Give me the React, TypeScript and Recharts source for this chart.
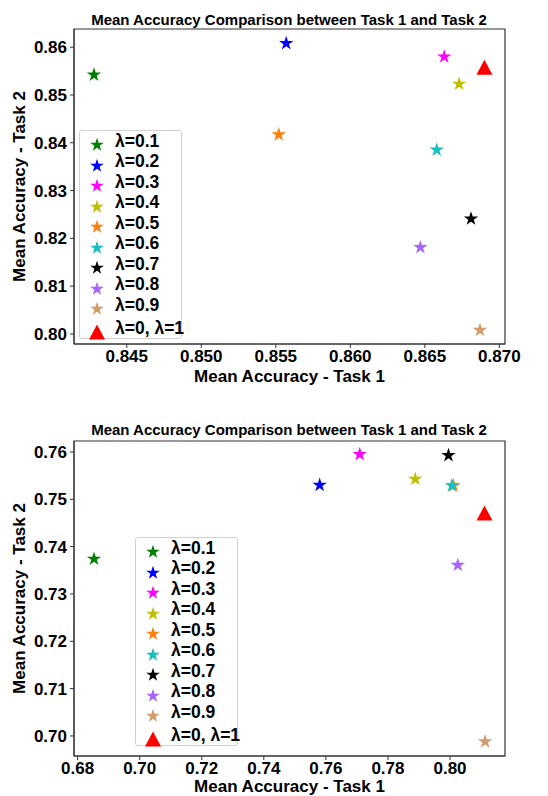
import React from 'react';
import { ScatterChart, Scatter, XAxis, YAxis, ZAxis, ReferenceArea, Legend, Symbols } from 'recharts';

// legend entries and marker colours (same for both panels)
const lambdaLabels = ['λ=0.1', 'λ=0.2', 'λ=0.3', 'λ=0.4', 'λ=0.5', 'λ=0.6', 'λ=0.7', 'λ=0.8', 'λ=0.9', 'λ=0, λ=1'];
const markerColors = ['#008000', '#0000ff', '#ff00ff', '#bfbf00', '#ff7f0e', '#17bfbf', '#000000', '#a866ff', '#d29b6a', '#ff0000'];

// top panel
const task1Top = [0.8428, 0.8557, 0.8663, 0.8673, 0.8552, 0.8658, 0.8681, 0.8647, 0.8687, 0.8690];
const task2Top = [0.8542, 0.8608, 0.8580, 0.8523, 0.8417, 0.8385, 0.8241, 0.8181, 0.8008, 0.8558];
const xTicksTop = [0.845, 0.85, 0.855, 0.86, 0.865, 0.87];
const yTicksTop = [0.8, 0.81, 0.82, 0.83, 0.84, 0.85, 0.86];

// bottom panel
const task1Bottom = [0.6853, 0.7580, 0.7709, 0.7888, 0.8011, 0.8006, 0.7995, 0.8025, 0.8113, 0.8111];
const task2Bottom = [0.7374, 0.7530, 0.7595, 0.7543, 0.7529, 0.7529, 0.7593, 0.7361, 0.6988, 0.7471];
const xTicksBottom = [0.68, 0.7, 0.72, 0.74, 0.76, 0.78, 0.8];
const yTicksBottom = [0.7, 0.71, 0.72, 0.73, 0.74, 0.75, 0.76];

const FONT = '"Liberation Sans", Arial, sans-serif';
const TITLE = 'Mean Accuracy Comparison between Task 1 and Task 2';

// matplotlib '^' marker is centred on its bounding box
const Triangle = (props: any) => {
  const { cx, cy, fill } = props;
  const h = 15;
  const w = 16;
  return (
    <polygon
      points={`${cx},${cy - h / 2} ${cx - w / 2},${cy + h / 2} ${cx + w / 2},${cy + h / 2}`}
      fill={fill}
    />
  );
};

const LegendBox = () => (
  <div
    style={{
      width: 103,
      height: 209,
      border: '1px solid #d0d0d0',
      borderRadius: 3,
      background: 'rgba(255,255,255,0.8)',
      boxSizing: 'border-box',
      paddingTop: 2,
      fontFamily: FONT,
      fontWeight: 'bold',
      fontSize: 17.5,
      color: '#000',
    }}
  >
    {lambdaLabels.map((label, i) => {
      const last = i === lambdaLabels.length - 1;
      return (
        <div key={label} style={{ display: 'flex', alignItems: 'center', height: last ? 25 : 20.5, whiteSpace: 'nowrap' }}>
          <svg width={34} height={20} style={{ flex: 'none' }}>
            {last ? (
              <Triangle cx={17} cy={12} fill={markerColors[i]} />
            ) : (
              <Symbols cx={17} cy={12} type="star" size={58} fill={markerColors[i]} />
            )}
          </svg>
          <span style={{ marginLeft: 1, marginTop: -4 }}>{label}</span>
        </div>
      );
    })}
  </div>
);

interface PanelProps {
  xs: number[];
  ys: number[];
  xTicks: number[];
  yTicks: number[];
  xDomain: [number, number];
  yDomain: [number, number];
  xDigits: number;
  height: number;
  marginTop: number;
  marginBottom: number;
  labelOffset: number;
  titleY: number;
  legendLeft: number;
  legendTop: number;
}

const Panel: React.FC<PanelProps> = ({ xs, ys, xTicks, yTicks, xDomain, yDomain, xDigits, height, marginTop, marginBottom, labelOffset, titleY, legendLeft, legendTop }) => {
  const tickStyle = { fontSize: 17, fontWeight: 'bold', fill: '#000', fontFamily: FONT };
  return (
    <ScatterChart width={548} height={height} margin={{ top: marginTop, right: 43, bottom: marginBottom, left: 0 }}>
      <XAxis
        type="number"
        dataKey="x"
        domain={xDomain}
        ticks={xTicks}
        allowDataOverflow
        height={40}
        tick={tickStyle}
        tickSize={4}
        tickMargin={2}
        stroke="#333"
        tickFormatter={(v: number) => v.toFixed(xDigits)}
        label={{ value: 'Mean Accuracy - Task 1', position: 'insideBottom', offset: labelOffset, style: { fontSize: 17, fontWeight: 'bold', fill: '#000', fontFamily: FONT } }}
      />
      <YAxis
        type="number"
        dataKey="y"
        domain={yDomain}
        ticks={yTicks}
        allowDataOverflow
        width={74}
        tick={tickStyle}
        tickSize={4}
        tickMargin={3}
        stroke="#333"
        tickFormatter={(v: number) => v.toFixed(2)}
        label={{ value: 'Mean Accuracy - Task 2', angle: -90, position: 'insideLeft', offset: 19, style: { textAnchor: 'middle', fontSize: 17, fontWeight: 'bold', fill: '#000', fontFamily: FONT } }}
      />
      <ZAxis range={[58, 58]} />
      <ReferenceArea x1={xDomain[0]} x2={xDomain[1]} y1={yDomain[0]} y2={yDomain[1]} fill="none" fillOpacity={0} stroke="#333" strokeWidth={1.2} />
      {lambdaLabels.map((label, i) => (
        <Scatter
          key={label}
          name={label}
          data={[{ x: xs[i], y: ys[i] }]}
          fill={markerColors[i]}
          shape={i === lambdaLabels.length - 1 ? Triangle : 'star'}
          isAnimationActive={false}
        />
      ))}
      <Legend
        layout="vertical"
        align="center"
        verticalAlign="middle"
        content={() => <LegendBox />}
        wrapperStyle={{ position: 'absolute', left: legendLeft, top: legendTop, width: 'auto', height: 'auto' }}
      />
      <text x={289} y={titleY} textAnchor="middle" fontSize={15} fontWeight="bold" fontFamily={FONT} fill="#000">
        {TITLE}
      </text>
    </ScatterChart>
  );
};

export default function App() {
  return (
    <div style={{ position: 'absolute', left: 0, top: 0, width: 548, height: 796, background: '#fff' }}>
      <Panel
        xs={task1Top}
        ys={task2Top}
        xTicks={xTicksTop}
        yTicks={yTicksTop}
        xDomain={[0.84146, 0.87038]}
        yDomain={[0.7979, 0.8638]}
        xDigits={3}
        height={400}
        marginTop={29}
        marginBottom={16}
        labelOffset={2}
        titleY={25}
        legendLeft={79}
        legendTop={130}
      />
      <Panel
        xs={task1Bottom}
        ys={task2Bottom}
        xTicks={xTicksBottom}
        yTicks={yTicksBottom}
        xDomain={[0.67884, 0.81771]}
        yDomain={[0.69576, 0.76233]}
        xDigits={2}
        height={396}
        marginTop={41}
        marginBottom={0}
        labelOffset={4}
        titleY={35}
        legendLeft={135}
        legendTop={137}
      />
    </div>
  );
}
